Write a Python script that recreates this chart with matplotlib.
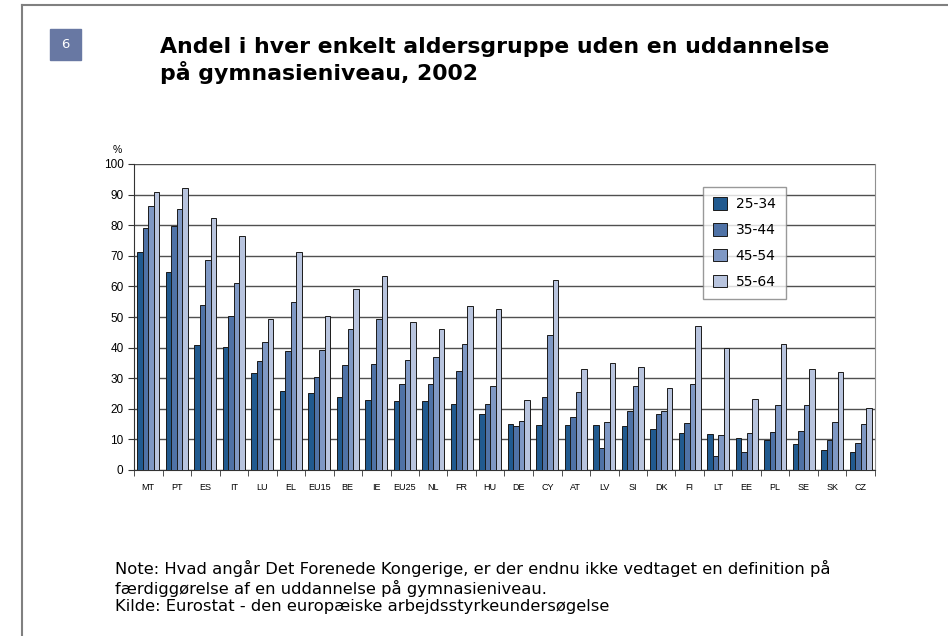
import numpy as np
import matplotlib.pyplot as plt
from matplotlib.patches import Rectangle
from matplotlib.lines import Line2D

# data
countries = ["MT", "PT", "ES", "IT", "LU", "EL", "EU15", "BE", "IE", "EU25", "NL", "FR", "HU",
             "DE", "CY", "AT", "LV", "SI", "DK", "FI", "LT", "EE", "PL", "SE", "SK", "CZ"]
age_groups = ["25-34", "35-44", "45-54", "55-64"]
g25_34 = [71.1, 64.7, 40.9, 40.1, 31.6, 25.7, 25.1, 23.7, 22.9, 22.6, 22.6, 21.5, 18.2,
          14.9, 14.6, 14.6, 14.6, 14.4, 13.5, 12.2, 11.8, 10.4, 9.7, 8.5, 6.4, 6.0]
g35_44 = [79.1, 79.7, 53.9, 50.3, 35.7, 38.8, 30.4, 34.4, 34.8, 28.0, 28.0, 32.4, 21.5,
          14.4, 23.7, 17.2, 7.1, 19.3, 18.2, 15.4, 4.5, 6.0, 12.4, 12.9, 9.7, 8.8]
g45_54 = [86.3, 85.2, 68.6, 61.1, 41.7, 55.0, 39.1, 46.0, 49.2, 36.0, 37.0, 41.3, 27.3,
          16.0, 44.2, 25.4, 15.7, 27.6, 19.3, 28.0, 11.5, 12.2, 21.2, 21.2, 15.7, 14.9]
g55_64 = [90.8, 92.0, 82.3, 76.6, 49.3, 71.1, 50.4, 59.2, 63.4, 48.5, 46.0, 53.7, 52.5,
          22.9, 62.1, 32.9, 34.9, 33.7, 26.9, 47.0, 39.8, 23.3, 41.3, 32.9, 32.0, 20.1]
series = [g25_34, g35_44, g45_54, g55_64]
colors = ["#215a8f", "#4f72a6", "#7f98c4", "#b8c4de"]

title_lines = ["Andel i hver enkelt aldersgruppe uden en uddannelse", "på gymnasieniveau, 2002"]
note = ("Note: Hvad angår Det Forenede Kongerige, er der endnu ikke vedtaget en definition på\n"
        "færdiggørelse af en uddannelse på gymnasieniveau.\n"
        "Kilde: Eurostat - den europæiske arbejdsstyrkeundersøgelse")

W, H = 948, 636
fig = plt.figure(figsize=(W / 100, H / 100), dpi=100)

def fx(px):
    return px / W

def fy(py):
    return 1 - py / H

# frame lines (left and top) and the number box
fig.add_artist(Line2D([fx(22), fx(22)], [0, fy(5)], color="#808080", lw=1.5))
fig.add_artist(Line2D([fx(22), 1], [fy(5), fy(5)], color="#808080", lw=1.5))
fig.add_artist(Rectangle((fx(50), fy(60)), 31 / W, 31 / H, color="#6878a3"))
fig.text(fx(65.5), fy(44.5), "6", color="white", fontsize=9.5, ha="center", va="center")

fig.text(fx(160), fy(53), title_lines[0], fontsize=15.8, fontweight="bold", va="baseline")
fig.text(fx(160), fy(80), title_lines[1], fontsize=15.8, fontweight="bold", va="baseline")

ax = fig.add_axes([fx(134), fy(470), 741 / W, 306 / H])
x = np.arange(len(countries))
w = 0.19
for i, (vals, c) in enumerate(zip(series, colors)):
    ax.bar(x + (i - 1.5) * w, vals, width=w, color=c, edgecolor="#1a1a1a", linewidth=0.7,
           label=age_groups[i], zorder=3)

ax.set_xlim(-0.5, len(countries) - 0.5)
ax.set_ylim(0, 100)
ax.set_yticks(range(0, 101, 10))
ax.yaxis.grid(True, color="#505050", linewidth=1, zorder=0)
ax.set_axisbelow(True)
ax.set_xticks(x)
ax.set_xticklabels(countries, fontsize=6.5, family="Liberation Sans")
ax.set_xticks(np.arange(-0.5, len(countries)), minor=True)
ax.tick_params(axis="x", which="major", length=0, pad=9)
ax.tick_params(axis="x", which="minor", length=4, color="#333333")
ax.tick_params(axis="y", length=4, labelsize=8.5, color="#333333")
for lab in ax.get_yticklabels():
    lab.set_family("Liberation Sans")
ax.spines["top"].set_visible(False)
ax.spines["right"].set_color("#909090")
ax.spines["left"].set_color("#333333")
ax.spines["bottom"].set_color("#333333")
ax.text(-0.023, 1.03, "%", transform=ax.transAxes, fontsize=7.5, family="Liberation Sans",
        ha="center", va="bottom")

leg = ax.legend(loc="upper left", bbox_to_anchor=((703 - 134) / 741, 1 - (187 - 164) / 306),
                borderaxespad=0, fontsize=10, frameon=True, fancybox=False, edgecolor="#808080",
                borderpad=0.75, labelspacing=0.85, handlelength=1.0, handleheight=1.0,
                handletextpad=0.6)
leg.get_frame().set_linewidth(1)
leg.set_zorder(5)

fig.text(fx(115), fy(560), note, fontsize=11.8, ha="left", va="top", linespacing=1.2)

fig.savefig("out.png", dpi=100)
